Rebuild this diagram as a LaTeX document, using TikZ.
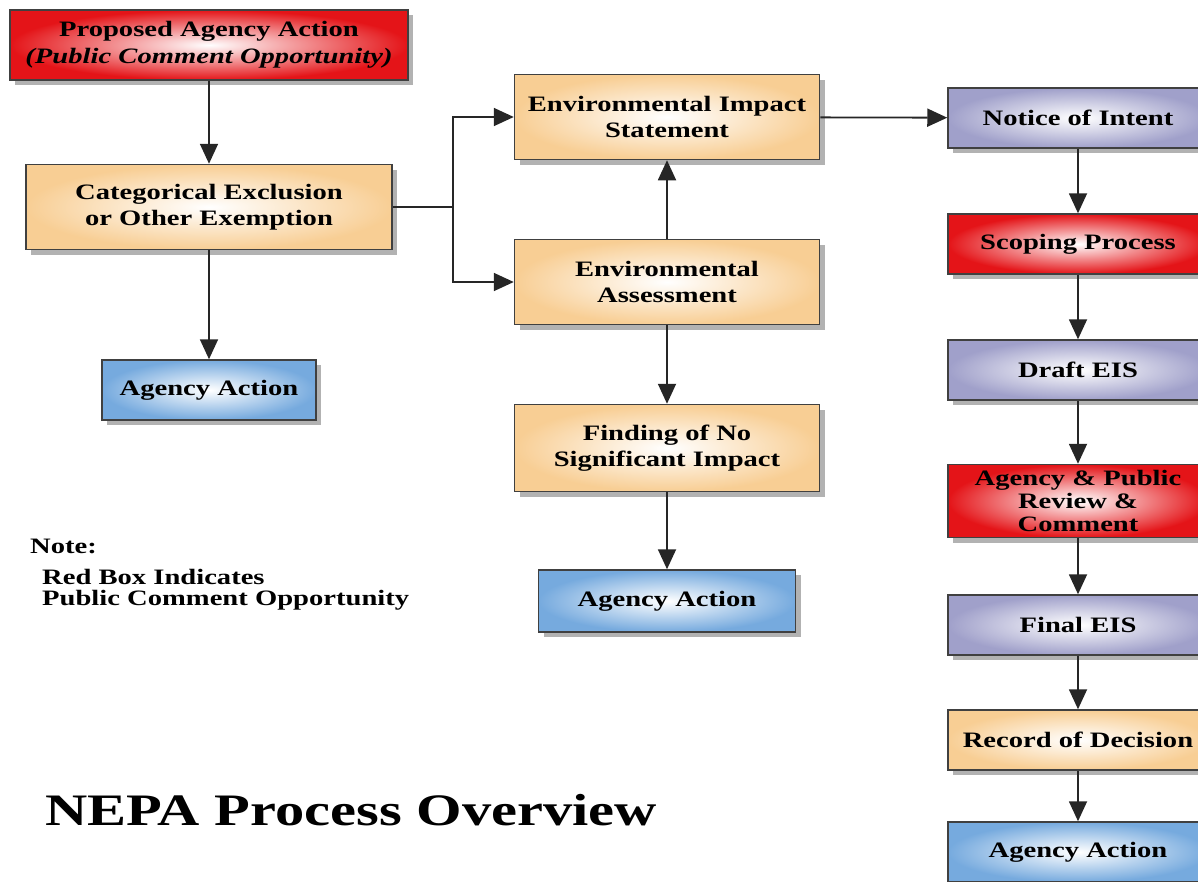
\documentclass[tikz,border=0pt]{standalone}
\usepackage{fontspec}
\setmainfont[FakeStretch=1.3]{Liberation Serif}
\usetikzlibrary{arrows.meta,shadows}
\definecolor{myred}{RGB}{228,20,24}
\definecolor{mytan}{RGB}{248,206,148}
\definecolor{mylav}{RGB}{160,160,202}
\definecolor{myblue}{RGB}{118,170,222}
\begin{document}
\begin{tikzpicture}[x=1pt,y=-1pt,
  box/.style={draw=black!75, line width=1.5pt, align=center, inner sep=0pt,
    font=\fontsize{22}{26}\selectfont\bfseries,
    drop shadow={shadow xshift=5pt, shadow yshift=-5pt, opacity=0.3, fill=black}},
  redbox/.style={box, inner color=white, outer color=myred},
  tanbox/.style={box, inner color=white, outer color=mytan},
  lavbox/.style={box, inner color=white, outer color=mylav},
  bluebox/.style={box, inner color=white, outer color=myblue},
  rcol/.style={minimum width=260pt, minimum height=60pt},
  arr/.style={line width=1.8pt, draw=black!85, -{Triangle[length=20pt,width=18pt]}},
  link/.style={line width=1.8pt, draw=black!85},
  notetext/.style={anchor=west, font=\fontsize{22}{24}\selectfont\bfseries, inner sep=0pt}
]
\useasboundingbox (0,0) rectangle (1198,881);
\fill[white] (0,0) rectangle (1198,881);
\clip (0,0) rectangle (1198,881);

% left column
\node[redbox, minimum width=398pt, minimum height=70pt, font=\fontsize{22}{27}\selectfont\bfseries] (prop) at (209,45)
  {Proposed Agency Action\\{\itshape (Public Comment Opportunity)}};
\node[tanbox, minimum width=366pt, minimum height=85pt] (cat) at (209,207)
  {Categorical Exclusion\\or Other Exemption};
\node[bluebox, minimum width=214pt, minimum height=60pt] (aa1) at (209,390) {Agency Action};

% middle column
\node[tanbox, minimum width=305pt, minimum height=85pt] (eis) at (667,117)
  {Environmental Impact\\Statement};
\node[tanbox, minimum width=305pt, minimum height=85pt] (ea) at (667,282)
  {Environmental\\Assessment};
\node[tanbox, minimum width=305pt, minimum height=87pt] (fonsi) at (667,448)
  {Finding of No\\Significant Impact};
\node[bluebox, minimum width=257pt, minimum height=62pt] (aa2) at (667,601) {Agency Action};

% right column
\node[lavbox, rcol] (noi) at (1078,118) {Notice of Intent};
\node[redbox, rcol] (scope) at (1078,244) {Scoping Process};
\node[lavbox, rcol] (draft) at (1078,370) {Draft EIS};
\node[redbox, rcol, minimum height=73pt, font=\fontsize{22}{23}\selectfont\bfseries] (review) at (1078,501)
  {Agency \& Public\\Review \&\\Comment};
\node[lavbox, rcol] (final) at (1078,625) {Final EIS};
\node[tanbox, rcol] (rod) at (1078,740) {Record of Decision};
\node[bluebox, rcol] (aa3) at (1078,852) {Agency Action};

% connectors
\draw[arr] (prop) -- (cat);
\draw[arr] (cat) -- (aa1);
\coordinate (j) at (453,207);
\draw[link] (cat.east) -- (j);
\draw[arr] (j) |- (eis.west);
\draw[arr] (j) |- (ea.west);
\draw[arr] (ea) -- (eis);
\draw[arr] (ea) -- (fonsi);
\draw[arr] (fonsi) -- (aa2);
\draw[arr] (eis) -- (noi);
\draw[arr] (noi) -- (scope);
\draw[arr] (scope) -- (draft);
\draw[arr] (draft) -- (review);
\draw[arr] (review) -- (final);
\draw[arr] (final) -- (rod);
\draw[arr] (rod) -- (aa3);

% note and title
\node[notetext] (note) at (30,546) {Note:};
\node[notetext] (note1) at (42,577) {Red Box Indicates};
\node[notetext] (note2) at (42,600) {Public Comment Opportunity};
\node[anchor=west, inner sep=0pt, font=\fontsize{45}{50}\selectfont\bfseries] (title) at (45,810) {NEPA Process Overview};
\end{tikzpicture}
\end{document}
